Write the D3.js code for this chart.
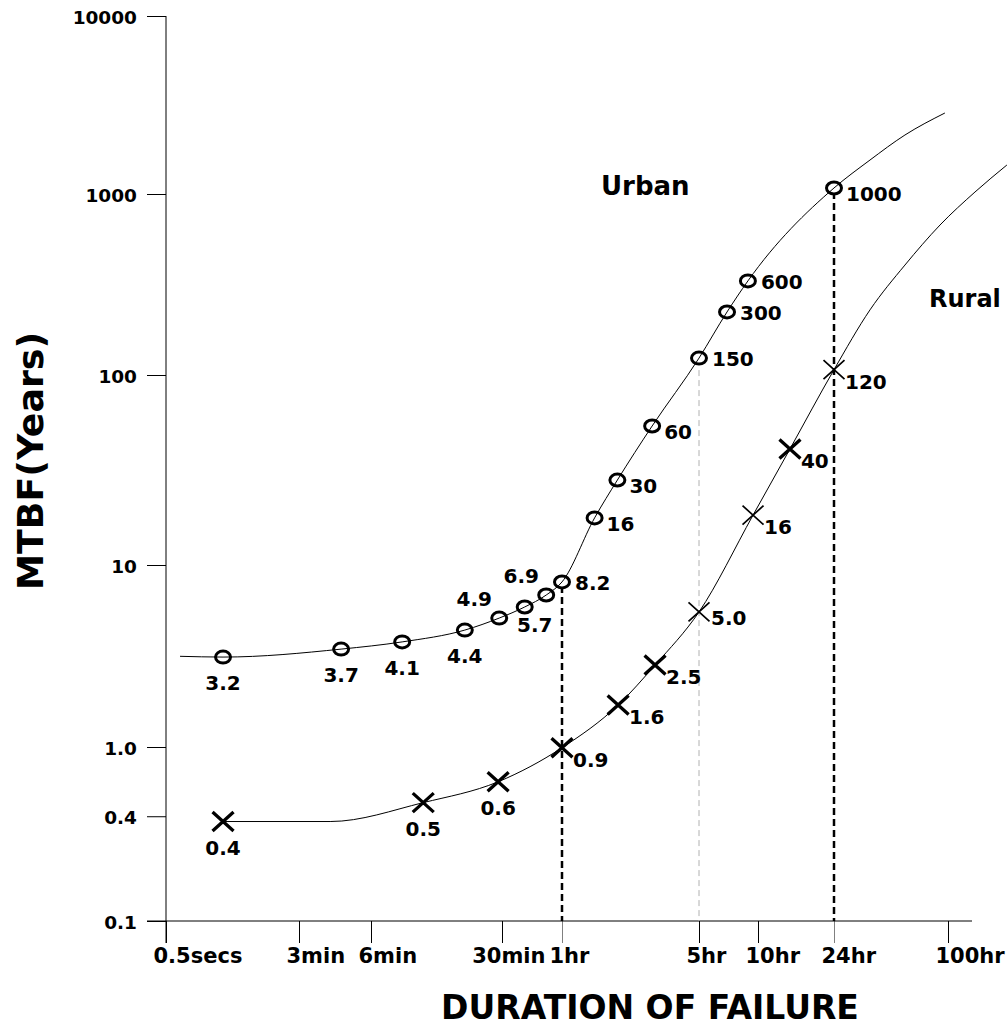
<!DOCTYPE html>
<html>
<head>
<meta charset="utf-8">
<script src="https://cdn.jsdelivr.net/npm/d3@7"></script>
<style>
  body { margin: 0; background: #fff; }
  text { font-family: "DejaVu Sans", sans-serif; font-weight: bold; fill: #000; }
</style>
</head>
<body>
<div id="chart"></div>
<script>
// durations in minutes
var xTickValues = [0.5 / 60, 3, 6, 30, 60, 300, 600, 1440, 6000];
var xTickLabels = ["0.5secs", "3min", "6min", "30min", "1hr", "5hr", "10hr", "24hr", "100hr"];
var yTickValues = [0.1, 0.4, 1, 10, 100, 1000, 10000];
var yTickLabels = ["0.1", "0.4", "1.0", "10", "100", "1000", "10000"];

// Urban points (position) and their printed labels
var urbanTime = [0.104, 4.5, 8.8, 19, 29, 39, 50, 60, 88, 115, 173, 300, 417, 533, 1440];
var urbanMTBF = [3.12, 3.45, 3.78, 4.39, 5.11, 5.88, 6.84, 8.07, 17.7, 28.0, 53.9, 124, 223, 331, 1081];
var urbanLabels = ["3.2", "3.7", "4.1", "4.4", "4.9", "5.7", "6.9", "8.2", "16", "30", "60", "150", "300", "600", "1000"];
var urbanHeadTime = [0.0155], urbanHeadMTBF = [3.15];
var urbanTailTime = [2260, 3500, 5770], urbanTailMTBF = [1552, 2145, 2851];

// Rural points
var ruralTime = [0.104, 11.4, 28.6, 60, 116, 179, 300, 566, 867, 1440];
var ruralMTBF = [0.373, 0.479, 0.631, 0.99, 1.70, 2.82, 5.52, 18.3, 40.8, 107];
var ruralLabels = ["0.4", "0.5", "0.6", "0.9", "1.6", "2.5", "5.0", "16", "40", "120"];
var ruralFlatTime = [4.05], ruralFlatMTBF = [0.373];
var ruralTailTime = [2260, 3500, 5430, 8410, 12540], ruralTailMTBF = [229, 405, 674, 1026, 1455];

// vertical drop lines at these durations (from the urban curve)
var dropTimes = [60, 300, 1440];

// label placement (layout only)
var urbanPlace = ["below", "below", "below", "below", "aboveLeft", "belowRight", "aboveLeft", "right",
                  "rightMid", "rightMid", "rightMid", "right", "right", "right", "rightMid"];
var ruralPlace = ["below", "below", "below", "rightLow", "rightLow", "rightLow", "rightMid", "rightLow", "rightLow", "rightLow"];
var placeOffset = {
  below: { dx: 0, dy: 33, anchor: "middle" },
  aboveLeft: { dx: -25, dy: -12, anchor: "middle" },
  belowRight: { dx: 10, dy: 25, anchor: "middle" },
  right: { dx: 13, dy: 8, anchor: "start" },
  rightMid: { dx: 12, dy: 13, anchor: "start" },
  rightLow: { dx: 11, dy: 19, anchor: "start" }
};
var thinCross = ["5.0", "16", "120"];

var width = 1007, height = 1026;
var axisY = 921;

var svg = d3.select("#chart").append("svg")
    .attr("width", width)
    .attr("height", height);
svg.append("rect").attr("width", width).attr("height", height).attr("fill", "#fff");

var x = d3.scaleLog()
    .domain(xTickValues)
    .range([166, 299, 371, 502, 562, 699, 758, 834, 948]);

var y = d3.scaleLog()
    .domain([0.1, 1, 10, 100, 1000, 10000])
    .range([axisY, 747, 565, 375, 194, 16]);

// axes
var yAxis = svg.append("g")
    .attr("transform", "translate(166,0)")
    .call(d3.axisLeft(y).tickValues(yTickValues)
        .tickFormat(function(d, i) { return yTickLabels[i]; })
        .tickSize(19).tickPadding(10));
yAxis.select(".domain").remove();
yAxis.selectAll("text").style("font-size", "18.5px").attr("dy", "0.4em");
yAxis.selectAll("line").attr("stroke", "#000");

var xAxis = svg.append("g")
    .attr("transform", "translate(0," + axisY + ")")
    .call(d3.axisBottom(x).tickValues(xTickValues)
        .tickFormat(function(d, i) { return xTickLabels[i]; })
        .tickSize(22).tickPadding(5));
xAxis.select(".domain").remove();
xAxis.selectAll("line").attr("stroke", function(d) { return (d === 60 || d === 1440) ? "#808080" : "#000"; });

// labels start a little left of their tick; push one left if it would run into the next
var xText = xAxis.selectAll("text")
    .style("font-size", "21px")
    .attr("text-anchor", "start")
    .attr("dx", -13);
var xNodes = xText.nodes();
xNodes.forEach(function(node, i) {
    if (i === xNodes.length - 1) return;
    var w = node.getComputedTextLength();
    var start = x(xTickValues[i]) - 13;
    var nextStart = x(xTickValues[i + 1]) - 13;
    if (start + w > nextStart - 4) {
        d3.select(node).attr("dx", -13 - (start + w - (nextStart - 4)));
    }
});

svg.append("line")
    .attr("x1", 166).attr("x2", 166)
    .attr("y1", y(10000)).attr("y2", axisY + 22)
    .attr("stroke", "#000");
svg.append("line")
    .attr("x1", 147).attr("x2", 972)
    .attr("y1", axisY).attr("y2", axisY)
    .attr("stroke", "#000");

// drop lines
dropTimes.forEach(function(t) {
    var i = urbanTime.indexOf(t);
    var grey = t === 300;
    svg.append("line")
        .attr("x1", x(t)).attr("x2", x(t))
        .attr("y1", y(urbanMTBF[i]) + (grey ? 12 : 4))
        .attr("y2", axisY)
        .attr("stroke", grey ? "#b0b0b0" : "#000")
        .attr("stroke-width", grey ? 1 : 2.5)
        .attr("stroke-dasharray", grey ? "6,4" : "7,4");
});

var line = d3.line()
    .x(function(d) { return x(d[0]); })
    .y(function(d) { return y(d[1]); })
    .curve(d3.curveMonotoneX);

var urbanCurve = d3.zip(urbanHeadTime.concat(urbanTime, urbanTailTime),
                        urbanHeadMTBF.concat(urbanMTBF, urbanTailMTBF));
var ruralCurve = d3.zip([ruralTime[0]].concat(ruralFlatTime, ruralTime.slice(1), ruralTailTime),
                        [ruralMTBF[0]].concat(ruralFlatMTBF, ruralMTBF.slice(1), ruralTailMTBF));

// urban markers (white octagon-ish)
svg.append("g").selectAll("ellipse")
    .data(d3.zip(urbanTime, urbanMTBF))
    .enter().append("ellipse")
    .attr("cx", function(d) { return x(d[0]); })
    .attr("cy", function(d) { return y(d[1]); })
    .attr("rx", 7.5).attr("ry", 6)
    .attr("fill", "#fff")
    .attr("stroke", "#000")
    .attr("stroke-width", 3);

svg.append("path").datum(urbanCurve)
    .attr("d", line).attr("fill", "none").attr("stroke", "#000").attr("stroke-width", 1);
svg.append("path").datum(ruralCurve)
    .attr("d", line).attr("fill", "none").attr("stroke", "#000").attr("stroke-width", 1);

// rural crosses
svg.append("g").selectAll("path")
    .data(d3.zip(ruralTime, ruralMTBF, ruralLabels))
    .enter().append("path")
    .attr("d", function(d) {
        var cx = x(d[0]), cy = y(d[1]);
        return "M" + (cx - 10.5) + "," + (cy - 9.5) + "L" + (cx + 10.5) + "," + (cy + 9.5) +
               "M" + (cx - 10.5) + "," + (cy + 9.5) + "L" + (cx + 10.5) + "," + (cy - 9.5);
    })
    .attr("stroke", "#000")
    .attr("stroke-width", function(d) { return thinCross.indexOf(d[2]) >= 0 ? 1.7 : 3.3; });

function addLabels(times, values, labels, place) {
    svg.append("g").selectAll("text")
        .data(labels)
        .enter().append("text")
        .attr("x", function(d, i) { return x(times[i]) + placeOffset[place[i]].dx; })
        .attr("y", function(d, i) { return y(values[i]) + placeOffset[place[i]].dy; })
        .attr("text-anchor", function(d, i) { return placeOffset[place[i]].anchor; })
        .style("font-size", "20px")
        .text(function(d) { return d; });
}
addLabels(urbanTime, urbanMTBF, urbanLabels, urbanPlace);
addLabels(ruralTime, ruralMTBF, ruralLabels, ruralPlace);

// series names
svg.append("text").attr("x", 601).attr("y", 195).style("font-size", "26px").text("Urban");
svg.append("text").attr("x", 929).attr("y", 307).style("font-size", "24px").text("Rural");

// axis titles
svg.append("text")
    .attr("x", 650).attr("y", 1019)
    .attr("text-anchor", "middle")
    .style("font-size", "33px")
    .text("DURATION OF FAILURE");
svg.append("text")
    .attr("transform", "translate(43,461) rotate(-90)")
    .attr("text-anchor", "middle")
    .attr("textLength", 258)
    .attr("lengthAdjust", "spacingAndGlyphs")
    .style("font-size", "35px")
    .text("MTBF(Years)");
</script>
</body>
</html>
